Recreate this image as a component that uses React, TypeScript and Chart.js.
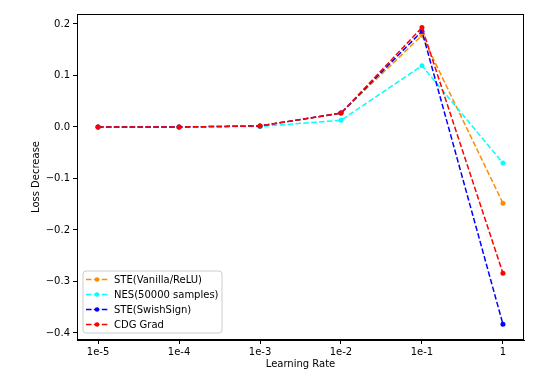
import React, { useEffect, useRef } from "react";
import { Chart, registerables } from "chart.js";

Chart.register(...registerables);

const xLabels = ["1e-5", "1e-4", "1e-3", "1e-2", "1e-1", "1"];
const yTicks = [-0.4, -0.3, -0.2, -0.1, 0.0, 0.1, 0.2];

const steVanilla = [0.0, 0.0, 0.002, 0.027, 0.178, -0.148];
const nes = [0.0, 0.0, 0.001, 0.013, 0.119, -0.07];
const steSwish = [0.0, 0.0, 0.002, 0.027, 0.186, -0.383];
const cdgGrad = [0.0, 0.0, 0.002, 0.027, 0.193, -0.284];

const seriesNames = ["STE(Vanilla/ReLU)", "NES(50000 samples)", "STE(SwishSign)", "CDG Grad"];
const seriesColors = ["#ff8c00", "#00ffff", "#0000ff", "#ff0000"];
const seriesValues = [steVanilla, nes, steSwish, cdgGrad];

const FONT = "'DejaVu Sans', sans-serif";
const DASH = [5.5, 2.4];

const frameAndLegend = {
  id: "frameAndLegend",
  afterDatasetsDraw(chart: any) {
    const { ctx, chartArea } = chart;
    ctx.save();
    // frame
    ctx.strokeStyle = "#000";
    ctx.lineWidth = 1;
    ctx.setLineDash([]);
    ctx.strokeRect(
      Math.round(chartArea.left) + 0.5,
      Math.round(chartArea.top) + 0.5,
      Math.round(chartArea.right - chartArea.left) - 1,
      Math.round(chartArea.bottom - chartArea.top) - 1
    );
    // legend
    const bx = chartArea.left + 6;
    const bw = 139;
    const bh = 62;
    const by = chartArea.bottom - 7 - bh;
    ctx.beginPath();
    const r = 3;
    ctx.moveTo(bx + r, by);
    ctx.lineTo(bx + bw - r, by);
    ctx.quadraticCurveTo(bx + bw, by, bx + bw, by + r);
    ctx.lineTo(bx + bw, by + bh - r);
    ctx.quadraticCurveTo(bx + bw, by + bh, bx + bw - r, by + bh);
    ctx.lineTo(bx + r, by + bh);
    ctx.quadraticCurveTo(bx, by + bh, bx, by + bh - r);
    ctx.lineTo(bx, by + r);
    ctx.quadraticCurveTo(bx, by, bx + r, by);
    ctx.closePath();
    ctx.fillStyle = "rgba(255,255,255,0.8)";
    ctx.fill();
    ctx.strokeStyle = "#cccccc";
    ctx.lineWidth = 1;
    ctx.stroke();
    ctx.font = `10px ${FONT}`;
    ctx.textBaseline = "middle";
    ctx.textAlign = "left";
    chart.data.datasets.forEach((ds: any, i: number) => {
      const y = by + 8.5 + i * 15;
      ctx.strokeStyle = ds.borderColor;
      ctx.lineWidth = 1.5;
      ctx.setLineDash(DASH);
      ctx.beginPath();
      ctx.moveTo(bx + 3, y);
      ctx.lineTo(bx + 25, y);
      ctx.stroke();
      ctx.setLineDash([]);
      ctx.fillStyle = ds.borderColor;
      ctx.beginPath();
      ctx.arc(bx + 14, y, 2.3, 0, Math.PI * 2);
      ctx.fill();
      ctx.fillStyle = "#000";
      ctx.fillText(ds.label, bx + 31, y + 0.5);
    });
    ctx.restore();
  },
};

export default function App() {
  const ref = useRef<HTMLCanvasElement>(null);
  useEffect(() => {
    if (!ref.current) return;
    const datasets = seriesValues.map((vals, i) => ({
      label: seriesNames[i],
      data: vals.map((v, j) => ({ x: j, y: v })),
      borderColor: seriesColors[i],
      backgroundColor: seriesColors[i],
      pointBackgroundColor: seriesColors[i],
      pointBorderColor: seriesColors[i],
      pointBorderWidth: 0,
      pointRadius: 2.5,
      borderWidth: 1.5,
      borderDash: DASH,
      tension: 0,
      fill: false,
      order: 3 - i,
    }));
    const chart = new Chart(ref.current, {
      type: "line",
      data: { datasets },
      plugins: [frameAndLegend],
      options: {
        animation: false,
        responsive: false,
        devicePixelRatio: 1,
        layout: { padding: { left: 0, top: 14, right: 36, bottom: 0 } },
        plugins: { legend: { display: false }, tooltip: { enabled: false } },
        scales: {
          x: {
            type: "linear",
            min: -0.26,
            max: 5.26,
            afterBuildTicks: (s: any) => {
              s.ticks = xLabels.map((_, i) => ({ value: i }));
            },
            afterFit: (s: any) => {
              s.height = 41;
            },
            ticks: {
              callback: (v: any) => xLabels[Math.round(v)] ?? "",
              color: "#000",
              font: { family: FONT, size: 10 },
              padding: 2,
              maxRotation: 0,
              autoSkip: false,
            },
            grid: { drawOnChartArea: false, drawTicks: true, tickLength: 4, color: "#000" },
            border: { display: true, color: "#000", width: 1 },
            title: {
              display: true,
              text: "Learning Rate",
              color: "#000",
              font: { family: FONT, size: 10 },
              padding: { top: 0, bottom: 11 },
            },
          },
          y: {
            type: "linear",
            min: -0.4136,
            max: 0.2194,
            afterBuildTicks: (s: any) => {
              s.ticks = yTicks.map((v) => ({ value: v }));
            },
            afterFit: (s: any) => {
              s.width = 77;
            },
            ticks: {
              callback: (v: any) => {
                const n = Number(v);
                const t = Math.abs(n).toFixed(1);
                return n < -1e-9 ? "\u2212" + t : t;
              },
              color: "#000",
              font: { family: FONT, size: 10 },
              padding: 3,
            },
            grid: { drawOnChartArea: false, drawTicks: true, tickLength: 4, color: "#000" },
            border: { display: true, color: "#000", width: 1 },
            title: {
              display: true,
              text: "Loss Decrease",
              color: "#000",
              font: { family: FONT, size: 10 },
              padding: { top: 30, bottom: 0 },
            },
          },
        },
      },
    } as any);
    return () => chart.destroy();
  }, []);
  return (
    <div style={{ position: "absolute", left: 0, top: 0, width: 560, height: 381, background: "#fff" }}>
      <canvas ref={ref} width={560} height={381} />
    </div>
  );
}
